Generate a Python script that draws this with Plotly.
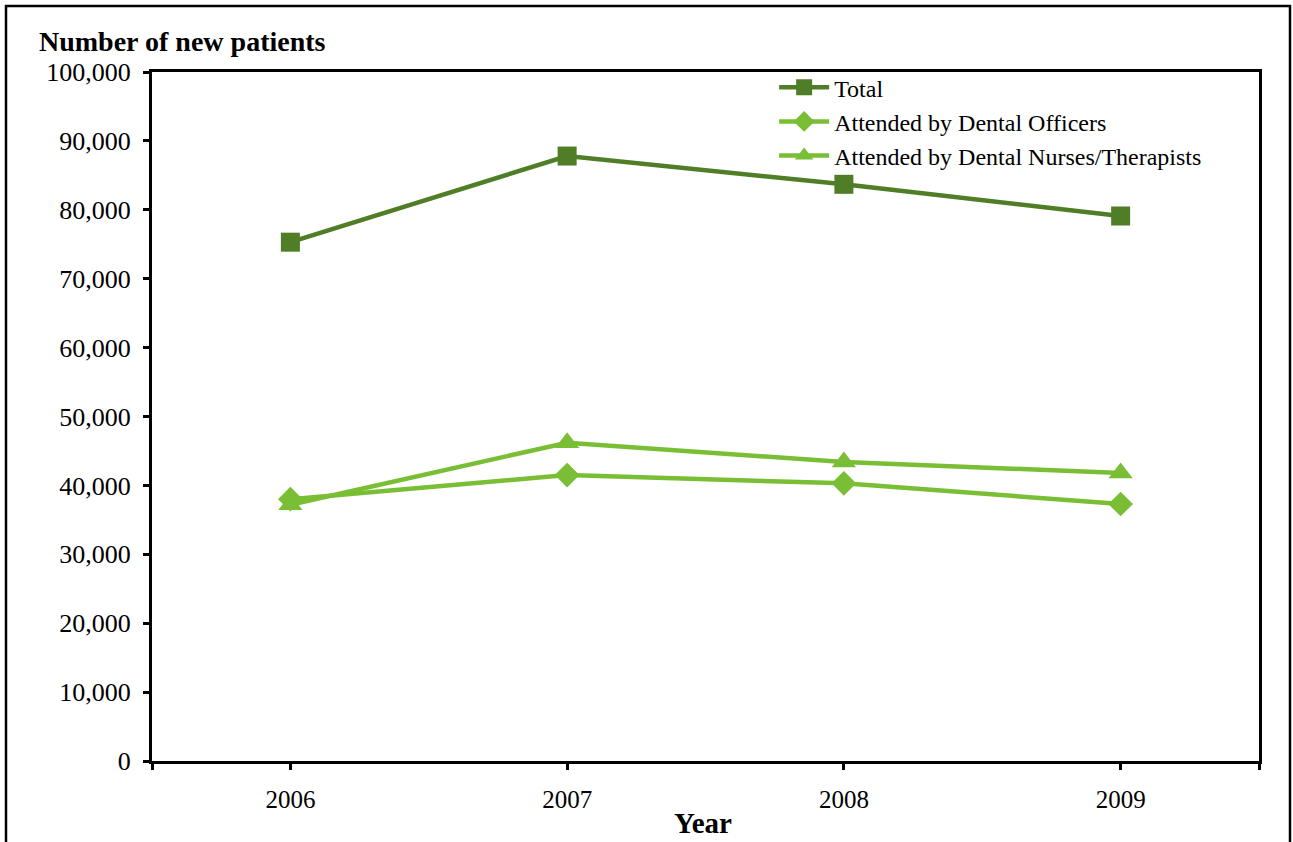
import plotly.graph_objects as go

years = [2006, 2007, 2008, 2009]
total = [75300, 87800, 83700, 79100]
officers = [38000, 41500, 40300, 37300]
nurses = [37200, 46200, 43400, 41800]

y_ticks = list(range(0, 100001, 10000))

dark = "#4F7E27"
light = "#79BE34"
font_family = "Liberation Serif, Times New Roman, serif"

fig = go.Figure()
fig.add_trace(go.Scatter(x=years, y=total, name="Total", mode="lines+markers",
                         line=dict(color=dark, width=4.5),
                         marker=dict(symbol="square", size=19, color=dark)))
fig.add_trace(go.Scatter(x=years, y=officers, name="Attended by Dental Officers", mode="lines+markers",
                         line=dict(color=light, width=4.5),
                         marker=dict(symbol="diamond", size=19, color=light)))
fig.add_trace(go.Scatter(x=years, y=nurses, name="Attended by Dental Nurses/Therapists", mode="lines+markers",
                         line=dict(color=light, width=4.5),
                         marker=dict(symbol="triangle-up", size=21, color=light)))

xt = [years[0] - 0.5] + years + [years[-1] + 0.5]
fig.update_xaxes(range=[years[0] - 0.5, years[-1] + 0.5], tickvals=xt,
                 ticktext=[""] + [str(y) for y in years] + [""],
                 showline=True, linecolor="black", linewidth=3, mirror=True,
                 ticks="outside", ticklen=6, tickwidth=3, tickcolor="black",
                 showgrid=False, zeroline=False, ticklabelstandoff=8,
                 tickfont=dict(family=font_family, size=25, color="black"))
fig.update_yaxes(range=[0, 100000], tickvals=y_ticks, tickformat=",d",
                 showline=True, linecolor="black", linewidth=3, mirror=True,
                 ticks="outside", ticklen=6, tickwidth=3, tickcolor="black",
                 showgrid=False, zeroline=False, ticklabelstandoff=7,
                 tickfont=dict(family=font_family, size=26, color="black"))

fig.update_layout(
    width=1293, height=842,
    margin=dict(l=152, r=34, t=72, b=81),
    paper_bgcolor="white", plot_bgcolor="white",
    showlegend=True,
    legend=dict(x=0.562, y=1.010, xanchor="left", yanchor="top",
                bgcolor="rgba(0,0,0,0)", tracegroupgap=0,
                font=dict(family=font_family, size=24, color="black"),
                itemwidth=50),
    annotations=[
        dict(text="<b>Number of new patients</b>", xref="paper", yref="paper",
             x=(37 - 152) / 1107, y=(761 - 42) / 689, xanchor="left", yanchor="middle",
             showarrow=False, font=dict(family=font_family, size=28, color="black")),
        dict(text="<b>Year</b>", xref="paper", yref="paper",
             x=(703 - 152) / 1107, y=(761 - 823) / 689, xanchor="center", yanchor="middle",
             showarrow=False, font=dict(family=font_family, size=29, color="black")),
    ],
    shapes=[
        dict(type="rect", xref="paper", yref="paper",
             x0=(6 - 152) / 1107, x1=(1290 - 152) / 1107,
             y0=(761 - 850) / 689, y1=(761 - 6) / 689,
             line=dict(color="black", width=2.5), fillcolor="rgba(0,0,0,0)", layer="below"),
    ],
)

fig.write_html("out.html", config={"displayModeBar": False},
               post_script="document.body.style.margin='0';document.body.style.overflow='hidden';")
